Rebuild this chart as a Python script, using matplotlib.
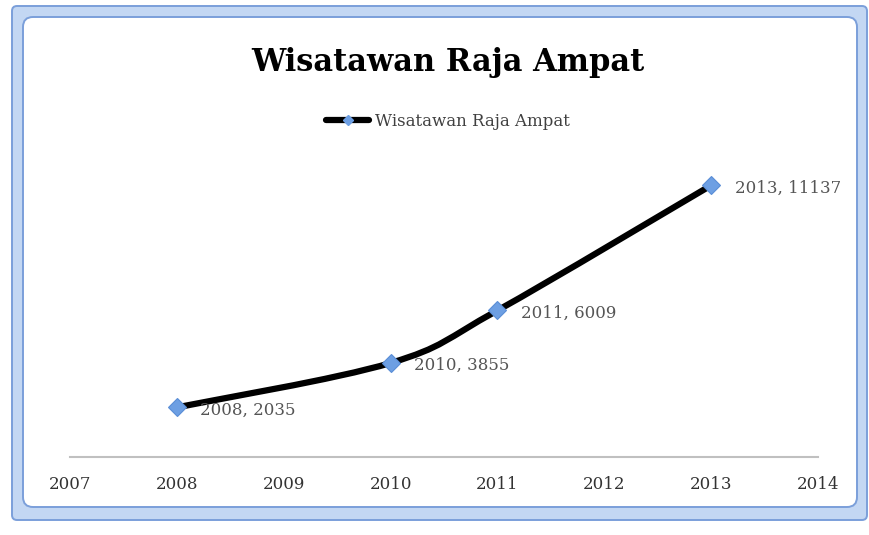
import matplotlib
matplotlib.use("Agg")
import matplotlib.pyplot as plt
from matplotlib.path import Path
from matplotlib.patches import PathPatch, FancyBboxPatch
from matplotlib.lines import Line2D
import numpy as np

title = "Wisatawan Raja Ampat"
series_name = "Wisatawan Raja Ampat"
years = [2008, 2010, 2011, 2013]
visitors = [2035, 3855, 6009, 11137]
x_ticks = [2007, 2008, 2009, 2010, 2011, 2012, 2013, 2014]

fig = plt.figure(figsize=(8.69, 5.35), dpi=100)
W, H = 869, 535

# Chart frame (selected Excel chart look)
frame_ax = fig.add_axes([0, 0, 1, 1])
frame_ax.set_xlim(0, W)
frame_ax.set_ylim(H, 0)
frame_ax.axis("off")
outer = FancyBboxPatch((12, 6), 855, 514, boxstyle="round,pad=0,rounding_size=5",
                       facecolor="#c3d7f3", edgecolor="#7b9fda", linewidth=1.4)
frame_ax.add_patch(outer)
inner = FancyBboxPatch((23, 17), 834, 490, boxstyle="round,pad=0,rounding_size=10",
                       facecolor="white", edgecolor="#7b9fda", linewidth=1.4)
frame_ax.add_patch(inner)

# Plot area
x0, x1 = 70, 818
y0, y1 = 457, 164.3
ax = fig.add_axes([x0 / W, (H - y0) / H, (x1 - x0) / W, (y0 - y1) / H])
ax.set_xlim(2007, 2014)
ax.set_ylim(0, 12000)
ax.patch.set_alpha(0)
for s in ["top", "right", "left"]:
    ax.spines[s].set_visible(False)
ax.spines["bottom"].set_color("#c0c0c0")
ax.spines["bottom"].set_linewidth(1.5)
ax.set_yticks([])
ax.set_xticks(x_ticks)
ax.set_xticklabels([str(t) for t in x_ticks], family="DejaVu Serif", fontsize=12, color="#333333")
ax.tick_params(axis="x", length=0, pad=14)

# Smoothed line (Catmull-Rom -> Bezier through the data points)
pts = np.column_stack([years, visitors]).astype(float)
ext = np.vstack([pts[0], pts, pts[-1]])
verts = [tuple(pts[0])]
codes = [Path.MOVETO]
for i in range(1, len(ext) - 2):
    p0, p1, p2, p3 = ext[i - 1], ext[i], ext[i + 1], ext[i + 2]
    c1 = p1 + (p2 - p0) / 6.0
    c2 = p2 - (p3 - p1) / 6.0
    verts += [tuple(c1), tuple(c2), tuple(p2)]
    codes += [Path.CURVE4] * 3
ax.add_patch(PathPatch(Path(verts, codes), facecolor="none", edgecolor="black",
                       linewidth=4.5, capstyle="round", joinstyle="round", zorder=3))
ax.plot(years, visitors, linestyle="none", marker="D", markersize=9.5,
        markerfacecolor="#6d9fe3", markeredgecolor="#5a8ed6", markeredgewidth=0.8, zorder=4)

for x, y in zip(years, visitors):
    ax.annotate(f"{x}, {y}", (x, y), xytext=(17, -2), textcoords="offset points",
                ha="left", va="center", family="DejaVu Serif", fontsize=12, color="#555555")

fig.text(448 / W, 1 - 62 / H, title, ha="center", va="center",
         family="DejaVu Serif", fontweight="bold", fontsize=22, color="black")

handle = Line2D([], [], color="black", linewidth=4.5, marker="D", markersize=5,
                markerfacecolor="#6d9fe3", markeredgecolor="#6d9fe3", solid_capstyle="round")
fig.legend([handle], [series_name], loc="center", bbox_to_anchor=(448 / W, 1 - 121 / H),
           frameon=False, prop={"family": "DejaVu Serif", "size": 12},
           labelcolor="#404040", handlelength=2.6, handletextpad=0.35)

fig.savefig("out.png", dpi=100)
